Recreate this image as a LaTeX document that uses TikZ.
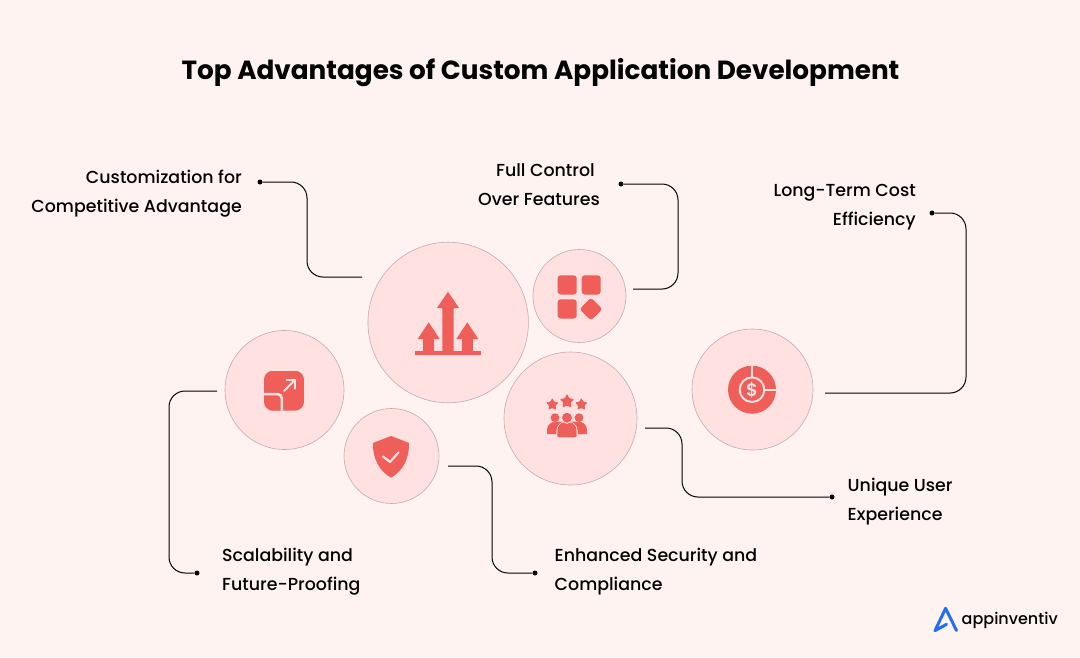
\documentclass[tikz,border=0pt]{standalone}
\usepackage{fontspec}
\setmainfont{Poppins}
\newfontfamily\labelfont{Poppins Medium}
\newfontfamily\titlefont{Poppins SemiBold}
\usetikzlibrary{shapes.geometric}
\definecolor{pagebg}{HTML}{FFF3F2}
\definecolor{ringfill}{HTML}{FFE1E1}
\definecolor{ringline}{HTML}{C4ABAB}
\definecolor{iconred}{HTML}{F05E59}
\definecolor{iconlight}{HTML}{FFE1E1}
\definecolor{logoblue}{HTML}{1F6FF2}
\tikzset{
  ring/.style={circle, draw=ringline, fill=ringfill, line width=.6pt, inner sep=0pt},
  link/.style={draw=black, line width=1pt, rounded corners=16pt},
  dot/.style={circle, fill=black, inner sep=0pt, minimum size=5pt},
  advlabel/.style={font=\labelfont\fontsize{17.4}{29}\selectfont, text=black, inner sep=0pt},
  ministar/.style={star, star points=5, star point ratio=1.9, fill=iconred, inner sep=0pt, rounded corners=.8pt},
}
\begin{document}
\begin{tikzpicture}[x=1pt, y=-1pt]
\fill[pagebg](0,0)rectangle(1080,657);
\useasboundingbox(0,0)rectangle(1080,657);
\node[font=\fontsize{26.27}{32}\selectfont\bfseries] (title) at (540.5,72.5) {Top Advantages of Custom Application Development};

% circles
\node[ring, minimum size=160.5pt] (growth) at (448.2,322.5) {};
\node[ring, minimum size=93pt] (control) at (579.5,296) {};
\node[ring, minimum size=119pt] (scale) at (284.5,390) {};
\node[ring, minimum size=95pt] (shield) at (391.5,456) {};
\node[ring, minimum size=133pt] (users) at (570.5,418.5) {};
\node[ring, minimum size=121pt] (cost) at (752.5,389.5) {};

% growth icon
\fill[iconred](415,351)rectangle(481,355);
\fill[iconred](448,291.7)--(459,308)--(453.7,308)--(453.7,352)--(442.3,352)--(442.3,308)--(437,308)--cycle;
\foreach \x in {428.7,467.3}
{
    \fill[iconred](\x,322.3)--(\x+11,339)--(\x+5.5,339)--(\x+5.5,352)--(\x-5.5,352)--(\x-5.5,339)--(\x-11,339)--cycle;
}

% control icon
\foreach \x/\y in {557.7/275.3, 581.7/275.3, 557.7/299.3}
{
    \fill[iconred, rounded corners=3pt](\x,\y)rectangle(\x+19,\y+19.2);
}
\fill[iconred, rounded corners=3pt](591,297.5)--(602.5,309)--(591,320.5)--(579.5,309)--cycle;

% scale icon
\begin{scope}
\clip[rounded corners=9pt](264,370.7)rectangle(304,410.7);
\fill[iconred](264,370.7)rectangle(304,410.7);
\fill[ringfill, rounded corners=5pt](258,392.8)rectangle(283,416);
\fill[iconred, rounded corners=4pt](258,395.3)rectangle(280.7,414);
\end{scope}
\draw[iconlight, line width=2pt, line cap=round](284,391)--(294.5,380.5);
\draw[iconlight, line width=2pt, line cap=round](286.5,380)--(295,380)--(295,388.5);

% shield icon
\fill[iconred](391,436)--(409,443)..controls(409.5,458)and(403,471)..(391,477.7)..controls(379,471)and(372.5,458)..(373,443)--cycle;
\draw[iconlight, line width=2.2pt, line cap=round, line join=round](383,456.5)--(390,462)--(398.5,452.5);

% users icon
\node[ministar, minimum size=13pt] (starl) at (552.3,404.5) {};
\node[ministar, minimum size=15pt] (starm) at (567,401.5) {};
\node[ministar, minimum size=13pt] (starr) at (581.3,404.5) {};
\fill[iconred](555,417.7)circle(4.4);
\fill[iconred](579,417.7)circle(4.4);
\fill[iconred](547,434)--(547,430)..controls(547,424)and(552,421.7)..(556,421.7)--(578,421.7)..controls(582,421.7)and(587,424)..(587,430)--(587,434)--cycle;
\draw[ringfill, line width=1.2pt, fill=iconred](557,437.8)--(557,431)..controls(557,425)and(562,421.5)..(567,421.5)..controls(572,421.5)and(577,425)..(577,431)--(577,437.8)--cycle;
\fill[iconred, rounded corners=1.5pt](557.7,437.3)--(557.7,431)..controls(557.7,425)and(562,422)..(567,422)..controls(572,422)and(576.3,425)..(576.3,431)--(576.3,437.3)--cycle;
\filldraw[iconred, draw=ringfill, line width=1pt](567,417.7)circle(5.6);

% cost icon
\fill[iconred](752,389.7)circle(24);
\draw[iconlight, line width=2pt](752,389.7)circle(12.3);
\draw[iconlight, line width=2pt](752.3,365.5)--(752.3,377.4);
\draw[iconlight, line width=2pt](764.3,389.7)--(776.2,389.7);
\node[text=iconlight, font=\titlefont\fontsize{18}{18}\selectfont, inner sep=0pt] (costsign) at (752,389.7) {\$};

% labels
\node[advlabel, anchor=east, align=right] (custom) at (242,193.5) {Customization for\\Competitive Advantage};
\node[advlabel, anchor=east, align=right] (full) at (600,184.5) {Full Control\hspace*{5pt}\\Over Features};
\node[advlabel, anchor=east, align=right] (longterm) at (916,207) {Long-Term Cost\\Efficiency};
\node[advlabel, anchor=west, align=left] (unique) at (847.5,501.5) {Unique User\\Experience};
\node[advlabel, anchor=west, align=left] (future) at (222,571.5) {Scalability and\\Future-Proofing};
\node[advlabel, anchor=west, align=left] (secure) at (554.5,571.5) {Enhanced Security and\\Compliance};

% connectors
\node[dot] (dotcustom) at (260,182) {};
\node[dot] (dotfull) at (621,184) {};
\node[dot] (dotlong) at (932,213) {};
\node[dot] (dotunique) at (832,497) {};
\node[dot] (dotfuture) at (197,573) {};
\node[dot] (dotsecure) at (535,573) {};
\coordinate (endgrowth) at (362,277);
\coordinate (endcontrol) at (633,289);
\coordinate (endcost) at (825,393);
\coordinate (endusers) at (645,428);
\coordinate (endshield) at (448,466);
\coordinate (endscale) at (217,391);
\coordinate (bendcustom) at (307,277);
\coordinate (bendfull) at (678,289);
\coordinate (bendlong) at (966,393);
\coordinate (bendunique) at (682,497);
\coordinate (bendsecure) at (492,573);
\coordinate (bendfuture) at (169,573);
\draw[link](dotcustom)-|(bendcustom)--(endgrowth);
\draw[link](dotfull)-|(bendfull)--(endcontrol);
\draw[link](dotlong)-|(bendlong)--(endcost);
\draw[link](endusers)-|(bendunique)--(dotunique);
\draw[link](endshield)-|(bendsecure)--(dotsecure);
\draw[link](endscale)-|(bendfuture)--(dotfuture);

% logo
\draw[logoblue, line width=3pt, line join=round, line cap=round](956.5,630.5)--(945.6,608.3)--(935,630.7)--(946.5,624.3);
\node[font=\labelfont\fontsize{16}{20}\selectfont, anchor=base west, inner sep=0pt] (logotext) at (961.5,624.5) {appinventiv};
\end{tikzpicture}
\end{document}
